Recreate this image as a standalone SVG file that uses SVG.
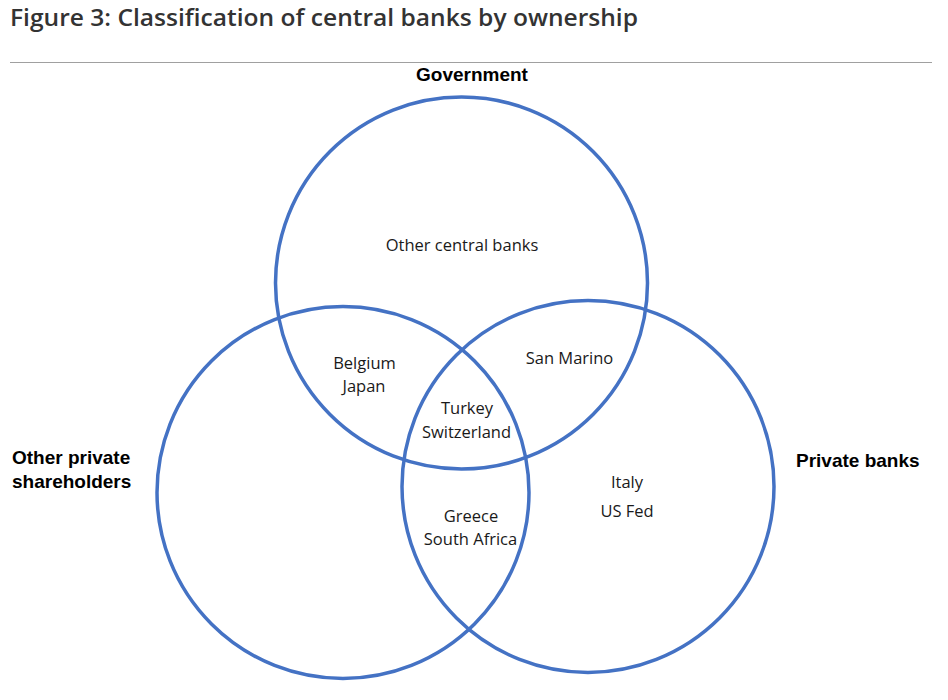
<svg xmlns="http://www.w3.org/2000/svg" width="948" height="700" viewBox="0 0 948 700">
<style>
.title{font-family:"Open Sans","Liberation Sans",sans-serif;font-weight:600;font-size:24px;fill:#333333}
.set{font-family:"Liberation Sans",Arial,sans-serif;font-weight:700;font-size:19px;fill:#000000}
.lbl{font-family:"Open Sans","Liberation Sans",sans-serif;font-size:16.5px;fill:#1a1a1a;text-anchor:middle}
.circ{fill:none;stroke:#4472C4;stroke-width:3.5}
</style>
<rect width="948" height="700" fill="#ffffff"/>
<text class="title" x="10" y="26" textLength="628" lengthAdjust="spacingAndGlyphs">Figure 3: Classification of central banks by ownership</text>
<line x1="10" y1="62.5" x2="932" y2="62.5" stroke="#a0a0a0" stroke-width="1"/>
<g id="government">
<circle class="circ" cx="461.5" cy="283" r="186"/>
<text class="set" x="472" y="81" text-anchor="middle">Government</text>
</g>
<g id="other-private">
<circle class="circ" cx="343" cy="492.5" r="186"/>
<text class="set" x="12" y="464">Other private</text>
<text class="set" x="12" y="488">shareholders</text>
</g>
<g id="private-banks">
<circle class="circ" cx="588" cy="486.5" r="186"/>
<text class="set" x="796" y="467">Private banks</text>
</g>
<g id="connectors"></g>
<g id="labels">
<text class="lbl" x="462" y="251">Other central banks</text>
<text class="lbl" x="364.5" y="369">Belgium</text>
<text class="lbl" x="364" y="392">Japan</text>
<text class="lbl" x="569.5" y="364">San Marino</text>
<text class="lbl" x="467" y="414">Turkey</text>
<text class="lbl" x="466.5" y="438">Switzerland</text>
<text class="lbl" x="471" y="522">Greece</text>
<text class="lbl" x="470.5" y="545">South Africa</text>
<text class="lbl" x="627" y="488">Italy</text>
<text class="lbl" x="627" y="517">US Fed</text>
</g>
</svg>
